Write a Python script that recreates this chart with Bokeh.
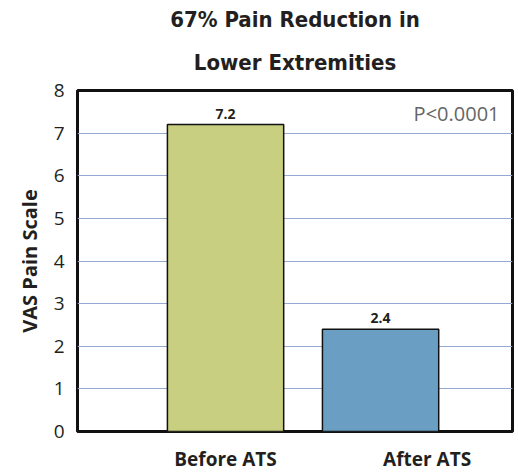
from bokeh.plotting import figure
from bokeh.models import ColumnDataSource, FixedTicker, Label, Range1d, Title
from bokeh.core.properties import value
from bokeh.embed import file_html
from bokeh.resources import INLINE

categories = ["Before ATS", "After ATS"]
vas_scores = [7.2, 2.4]
bar_colors = ["#c8cf80", "#6a9fc3"]
y_ticks = [0, 1, 2, 3, 4, 5, 6, 7, 8]
title_lines = ["67% Pain Reduction in", "Lower Extremities"]
p_value_text = "P<0.0001"
y_label = "VAS Pain Scale"

positions = [i + 1 for i in range(len(categories))]
label_shift = [0.0, 0.3]  # layout: category label offsets (as in source)
label_positions = [p + s for p, s in zip(positions, label_shift)]

src = ColumnDataSource(dict(x=positions, top=vas_scores, color=bar_colors,
                            txt=[f"{v:.1f}" for v in vas_scores]))

x_start, x_end = 0.045, 2.851
y_max = max(y_ticks)
p = figure(width=516, height=474, output_backend="svg", toolbar_location=None,
           x_range=Range1d(x_start, x_end), y_range=Range1d(0, y_max),
           min_border_left=77, min_border_right=4, min_border_top=90, min_border_bottom=42)

xax = p.below[0]
yax = p.left[0]

TITLE_FONT = "DejaVu Sans Condensed"
for line, so in zip(reversed(title_lines), [32, 0]):
    p.add_layout(Title(text=line, align="center", text_font=TITLE_FONT,
                       text_font_size="22px", text_font_style="bold",
                       text_color="#231f20", standoff=so), "above")

p.vbar(x="x", top="top", width=0.75, bottom=0, source=src, fill_color="color",
       line_color="#111111", line_width=1.5)

p.text(x="x", y="top", text="txt", source=src, text_align="center", text_baseline="bottom",
       y_offset=-6, text_font=value("Open Sans"), text_font_style="bold",
       text_font_size="14px", text_color="#231f20")

p.add_layout(Label(x=x_end, y=y_max, x_offset=-13, y_offset=-9, text=p_value_text,
                   text_align="right", text_baseline="top", text_font="Open Sans",
                   text_font_size="20px", text_color="#666666"))

p.xgrid.visible = False
p.ygrid.ticker = FixedTicker(ticks=y_ticks)
p.ygrid.grid_line_color = "#95aad3"
p.ygrid.grid_line_width = 1

p.outline_line_color = "#111111"
p.outline_line_width = 3
p.outline_line_alpha = 1

xax.ticker = FixedTicker(ticks=label_positions)
xax.major_label_overrides = {lp: c for lp, c in zip(label_positions, categories)}
xax.axis_line_color = None
xax.major_tick_line_color = None
xax.minor_tick_line_color = None
xax.major_tick_out = 0
xax.major_tick_in = 0
xax.minor_tick_out = 0
xax.major_label_text_font = "Open Sans"
xax.major_label_text_font_style = "bold"
xax.major_label_text_font_size = "19px"
xax.major_label_text_color = "#231f20"
xax.major_label_standoff = 14

yax.ticker = FixedTicker(ticks=y_ticks)
yax.axis_line_color = None
yax.major_tick_line_color = None
yax.minor_tick_line_color = None
yax.major_tick_out = 0
yax.major_tick_in = 0
yax.minor_tick_out = 0
yax.major_label_text_font = "Open Sans"
yax.major_label_text_font_size = "19px"
yax.major_label_text_color = "#231f20"
yax.major_label_standoff = 13
yax.axis_label = y_label
yax.axis_label_text_font = "Open Sans"
yax.axis_label_text_font_style = "bold"
yax.axis_label_text_font_size = "20px"
yax.axis_label_text_color = "#231f20"
yax.axis_label_standoff = 8

p.background_fill_color = "white"
p.border_fill_color = "white"

open("out.html", "w").write(file_html(p, INLINE))
